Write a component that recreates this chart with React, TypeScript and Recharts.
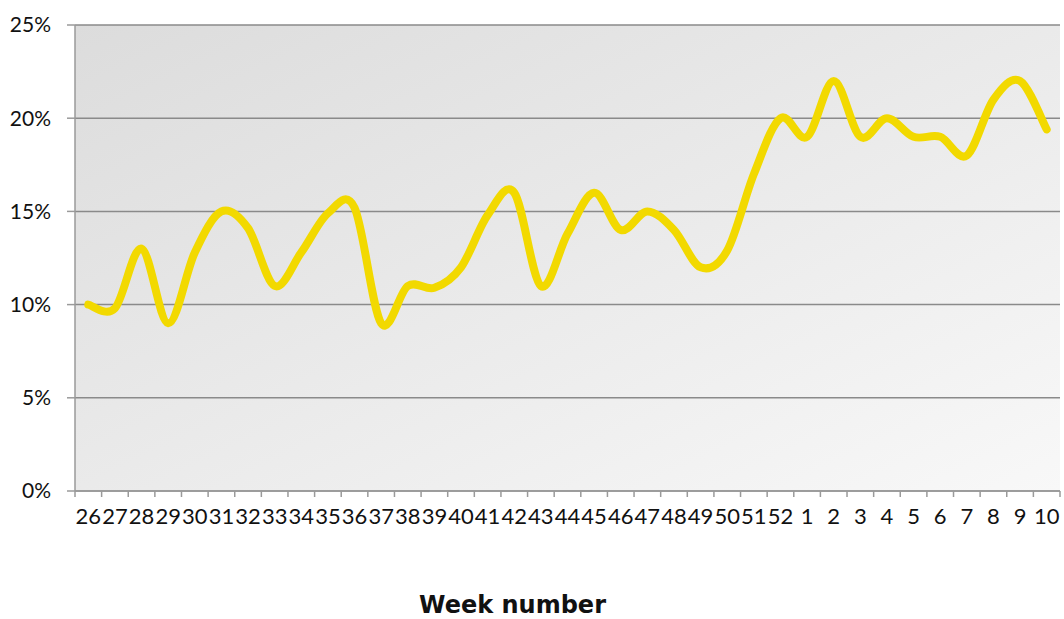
import React from "react";
import {
    LineChart,
    Line,
    XAxis,
    YAxis,
    CartesianGrid,
} from "recharts";

const weeks = [
    "26", "27", "28", "29", "30", "31", "32", "33", "34", "35",
    "36", "37", "38", "39", "40", "41", "42", "43", "44", "45",
    "46", "47", "48", "49", "50", "51", "52", "1", "2", "3",
    "4", "5", "6", "7", "8", "9", "10",
];

const share = [
    10, 9.8, 13, 9, 12.8, 15, 14.1, 11, 12.8, 14.9,
    15.2, 9, 11, 10.9, 12, 14.8, 16, 11, 13.8, 16,
    14, 15, 14, 12, 12.9, 17, 20, 19, 22, 19,
    20, 19, 19, 18, 21, 22, 19.4,
];

const yTicks = [0, 5, 10, 15, 20, 25];

const data = weeks.map((week, i) => ({ week, share: share[i] }));

const WIDTH = 1064;
const HEIGHT = 619;
const MARGIN = { top: 25, right: 4, bottom: 0, left: 0 };
const Y_AXIS_W = 75;
const HALF_BAND = (WIDTH - Y_AXIS_W - MARGIN.right) / weeks.length / 2;

const FONT = "Lato, 'Open Sans', sans-serif";
const AXIS_GREY = "#9a9a9a";

// Excel-style smoothed line (Catmull-Rom through every point)
const smoothCurve = (context: any) => {
    let pts: [number, number][] = [];
    return {
        areaStart() {},
        areaEnd() {},
        lineStart() {
            pts = [];
        },
        point(x: number, y: number) {
            pts.push([+x, +y]);
        },
        lineEnd() {
            if (!pts.length) return;
            const k = 1 / 6;
            context.moveTo(pts[0][0], pts[0][1]);
            for (let i = 0; i < pts.length - 1; i++) {
                const p0 = pts[i - 1] || pts[i];
                const p1 = pts[i];
                const p2 = pts[i + 1];
                const p3 = pts[i + 2] || pts[i + 1];
                context.bezierCurveTo(
                    p1[0] + (p2[0] - p0[0]) * k,
                    p1[1] + (p2[1] - p0[1]) * k,
                    p2[0] - (p3[0] - p1[0]) * k,
                    p2[1] - (p3[1] - p1[1]) * k,
                    p2[0],
                    p2[1]
                );
            }
        },
    };
};

const WeekTick = (props: any) => {
    const { x, y, payload, index } = props;
    const last = index === weeks.length - 1;
    return (
        <g>
            <line x1={x - HALF_BAND} x2={x - HALF_BAND} y1={y} y2={y + 6} stroke={AXIS_GREY} strokeWidth={1.5} />
            {last && (
                <line x1={x + HALF_BAND} x2={x + HALF_BAND} y1={y} y2={y + 6} stroke={AXIS_GREY} strokeWidth={1.5} />
            )}
            <text
                x={x}
                y={y + 33}
                textAnchor="middle"
                fontSize={22}
                fontFamily={FONT}
                fill="#111"
            >
                {payload.value}
            </text>
        </g>
    );
};

export default function App() {
    return (
        <div style={{ position: "absolute", left: 0, top: 0, width: WIDTH, height: HEIGHT, background: "#fff" }}>
            <LineChart width={WIDTH} height={HEIGHT} data={data} margin={MARGIN}>
                <defs>
                    <linearGradient id="plotBg" x1="0" y1="0" x2="1" y2="1">
                        <stop offset="0%" stopColor="#dcdcdc" />
                        <stop offset="100%" stopColor="#f8f8f8" />
                    </linearGradient>
                </defs>
                <CartesianGrid
                    vertical={false}
                    stroke="#8a8a8a"
                    strokeWidth={1.5}
                    fill="url(#plotBg)"
                    fillOpacity={1}
                />
                <XAxis
                    dataKey="week"
                    scale="band"
                    interval={0}
                    height={128}
                    tickLine={false}
                    tickSize={0}
                    tickMargin={0}
                    axisLine={{ stroke: AXIS_GREY, strokeWidth: 1.5 }}
                    tick={<WeekTick />}
                    label={{
                        value: "Week number",
                        position: "insideBottom",
                        offset: 6,
                        dx: -55,
                        fontSize: 24,
                        fontWeight: "bold",
                        fontFamily: "'DejaVu Sans', sans-serif",
                        fill: "#111",
                    }}
                />
                <YAxis
                    width={Y_AXIS_W}
                    domain={[0, 25]}
                    ticks={yTicks}
                    interval={0}
                    tickFormatter={(v: number) => `${v}%`}
                    tickSize={8}
                    tickMargin={16}
                    tickLine={{ stroke: AXIS_GREY, strokeWidth: 1.5 }}
                    axisLine={{ stroke: AXIS_GREY, strokeWidth: 1.5 }}
                    tick={{ fontSize: 21, fontFamily: FONT, fill: "#111" }}
                />
                <Line
                    dataKey="share"
                    type={smoothCurve as any}
                    stroke="#f2d900"
                    strokeWidth={8}
                    strokeLinecap="round"
                    dot={false}
                    activeDot={false}
                    isAnimationActive={false}
                />
            </LineChart>
        </div>
    );
}
